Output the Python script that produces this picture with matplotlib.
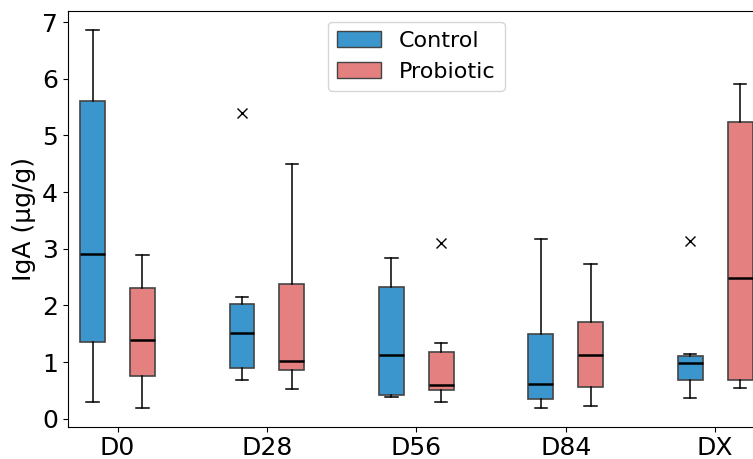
import matplotlib
matplotlib.use("Agg")
import matplotlib.pyplot as plt
from matplotlib.patches import Patch

days = ["D0", "D28", "D56", "D84", "DX"]
groups = ["Control", "Probiotic"]

# five-number summaries: whislo, q1, med, q3, whishi
control_whislo = [0.29, 0.68, 0.38, 0.19, 0.36]
control_q1 = [1.36, 0.89, 0.42, 0.35, 0.69]
control_med = [2.90, 1.51, 1.12, 0.62, 0.98]
control_q3 = [5.61, 2.03, 2.33, 1.50, 1.10]
control_whishi = [6.86, 2.14, 2.84, 3.18, 1.14]
control_fliers = [[], [5.40], [], [], [3.13]]

probiotic_whislo = [0.19, 0.53, 0.30, 0.23, 0.55]
probiotic_q1 = [0.75, 0.86, 0.51, 0.56, 0.69]
probiotic_med = [1.39, 1.02, 0.60, 1.12, 2.48]
probiotic_q3 = [2.30, 2.37, 1.17, 1.70, 5.24]
probiotic_whishi = [2.89, 4.49, 1.34, 2.73, 5.91]
probiotic_fliers = [[], [], [3.10], [], []]

colors = {"Control": "#3a96cc", "Probiotic": "#e58080"}


def make_stats(lo, q1, med, q3, hi, fl):
    return [dict(whislo=a, q1=b, med=c, q3=d, whishi=e, fliers=f)
            for a, b, c, d, e, f in zip(lo, q1, med, q3, hi, fl)]


stats = {
    "Control": make_stats(control_whislo, control_q1, control_med, control_q3,
                          control_whishi, control_fliers),
    "Probiotic": make_stats(probiotic_whislo, probiotic_q1, probiotic_med,
                            probiotic_q3, probiotic_whishi, probiotic_fliers),
}

fig = plt.figure(figsize=(7.53, 4.59), dpi=100)
ax = fig.add_axes([0.0899, 0.0704, 0.926, 0.9063])

centers = [3 * i for i in range(len(days))]
offsets = {"Control": -0.5, "Probiotic": 0.5}
for g in groups:
    pos = [c + offsets[g] for c in centers]
    ax.bxp(stats[g], positions=pos, widths=0.5, patch_artist=True,
           boxprops=dict(facecolor=colors[g], edgecolor="#444444", linewidth=1.2),
           medianprops=dict(color="black", linewidth=1.8),
           whiskerprops=dict(color="black", linewidth=1.1),
           capprops=dict(color="black", linewidth=1.1),
           flierprops=dict(marker="x", markeredgecolor="black", markersize=7,
                           markeredgewidth=1.0, linestyle="none"),
           manage_ticks=False)

ax.set_xlim(centers[0] - 1.0, centers[-1] + 1.0)
ax.set_ylim(-0.14, 7.2)
ax.set_xticks(centers)
ax.set_xticklabels(days)
ax.set_yticks(range(0, 8))
ax.tick_params(labelsize=18)
ax.set_ylabel("IgA (µg/g)", fontsize=18)

handles = [Patch(facecolor=colors[g], edgecolor="#444444", label=g) for g in groups]
ax.legend(handles=handles, loc="upper center", fontsize=16)

fig.savefig("out.png", dpi=100)
